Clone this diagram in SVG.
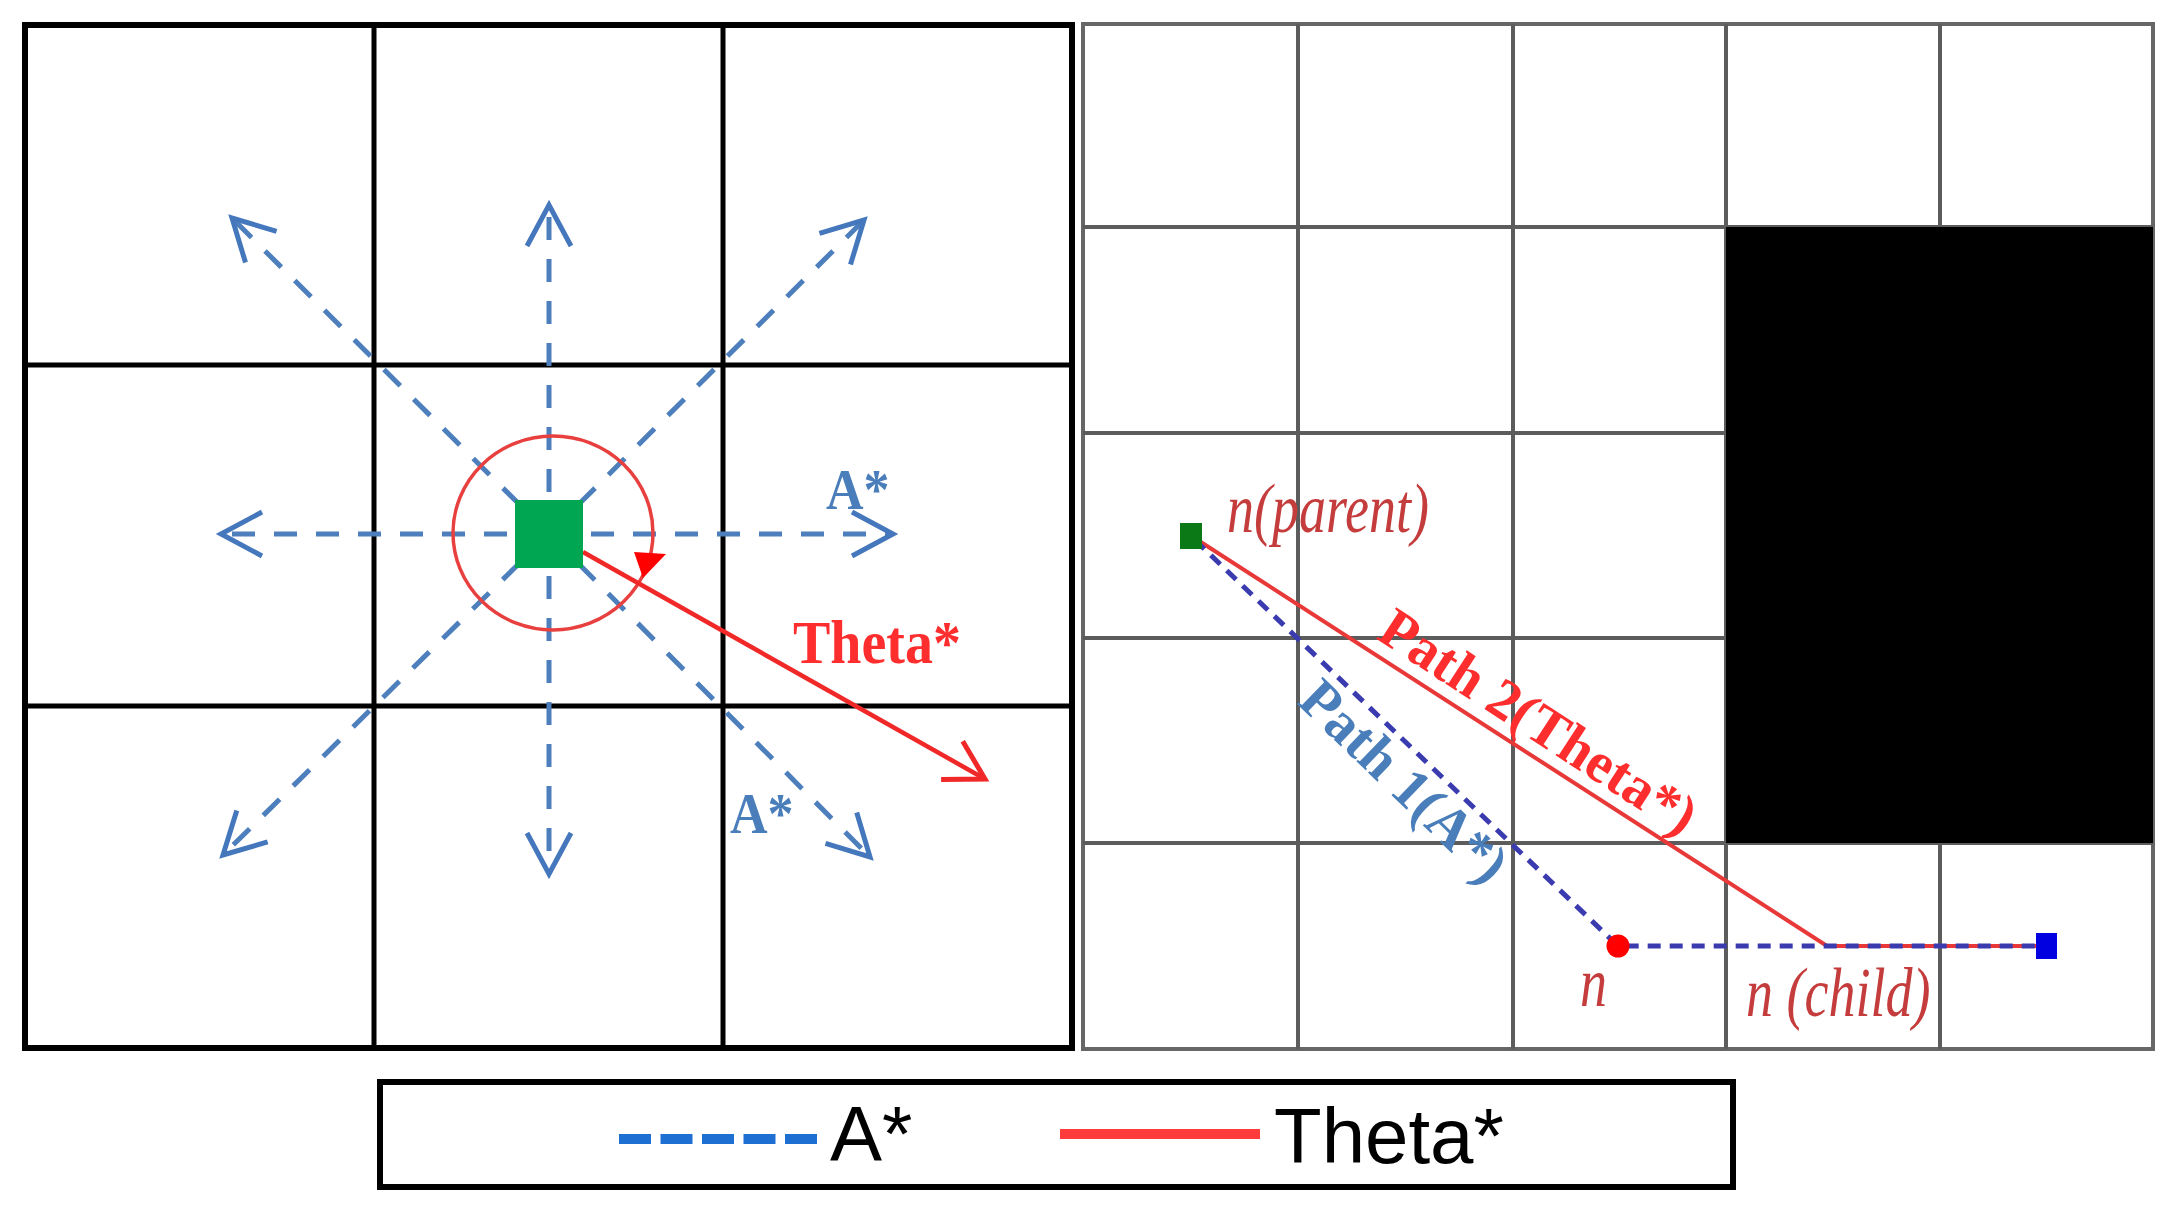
<svg xmlns="http://www.w3.org/2000/svg" width="2179" height="1209" viewBox="0 0 2179 1209">
<style>
.grid1{stroke:#000;stroke-width:5;fill:none}
.grid2{stroke:#5c5c5c;stroke-width:4;fill:none}
.astar{stroke:#4E7FBD;stroke-width:5;fill:none;stroke-dasharray:23 19}
.lbl-blue{font-family:"Liberation Serif",serif;font-weight:bold;fill:#4A7EBB}
.lbl-red{font-family:"Liberation Serif",serif;font-weight:bold;fill:#FF2E2E}
.lbl-n{font-family:"Liberation Serif",serif;font-style:italic;fill:#C43C3C;font-size:54px}
.leg{font-family:"Liberation Sans",Arial,sans-serif;fill:#000;font-size:78px}
</style>
<defs>
<marker id="blueHead" markerUnits="userSpaceOnUse" viewBox="-50 -30 60 60" markerWidth="60" markerHeight="60" refX="0" refY="0" orient="auto">
<path d="M-41,-22 L0,0 L-41,22" fill="none" stroke="#4577BD" stroke-width="5" stroke-dasharray="none" stroke-linejoin="miter"/>
</marker>
<marker id="redHead" markerUnits="userSpaceOnUse" viewBox="-50 -30 60 60" markerWidth="60" markerHeight="60" refX="0" refY="0" orient="auto">
<path d="M-38,-22 L0,0 L-38,22" fill="none" stroke="#F02828" stroke-width="5"/>
</marker>
</defs>
<rect width="2179" height="1209" fill="#fff"/>

<g id="left-panel">
<rect x="25" y="25" width="1047" height="1023" fill="#fff" stroke="#000" stroke-width="6"/>
<path class="grid1" d="M374,25 V1048 M723,25 V1048 M25,365 H1072 M25,706 H1072"/>
</g>

<g id="connectors">
<g id="astar-arrows">
<line class="astar" x1="549" y1="534" x2="549" y2="205" marker-end="url(#blueHead)"/>
<line class="astar" x1="549" y1="534" x2="549" y2="874" marker-end="url(#blueHead)"/>
<line class="astar" x1="549" y1="534" x2="221" y2="534" marker-end="url(#blueHead)"/>
<line class="astar" x1="549" y1="534" x2="893" y2="534" marker-end="url(#blueHead)"/>
<line class="astar" x1="549" y1="534" x2="232" y2="218" marker-end="url(#blueHead)"/>
<line class="astar" x1="549" y1="534" x2="864" y2="220" marker-end="url(#blueHead)"/>
<line class="astar" x1="549" y1="534" x2="223" y2="855" marker-end="url(#blueHead)"/>
<line class="astar" x1="549" y1="534" x2="870" y2="857" marker-end="url(#blueHead)"/>
</g>
<ellipse cx="553" cy="533" rx="100" ry="97" fill="none" stroke="#E8403F" stroke-width="3.5"/>
<polygon points="634,552 666,554 643,578" fill="#FF0000"/>
<line x1="583" y1="552" x2="985" y2="779" stroke="#F02828" stroke-width="4.5" marker-end="url(#redHead)"/>
</g>

<g id="node-current">
<rect x="515" y="500" width="68" height="68" fill="#00A651"/>
</g>

<g id="left-labels">
<text class="lbl-blue" font-size="52" transform="translate(826,509) scale(1,1.1)">A*</text>
<text class="lbl-blue" font-size="52" transform="translate(730,833) scale(1,1.1)">A*</text>
<text class="lbl-red" font-size="56" transform="translate(793,663) scale(1,1.1)">Theta*</text>
</g>

<g id="right-panel">
<rect x="1083" y="24" width="1070" height="1025" fill="#fff" stroke="#666" stroke-width="4"/>
<path class="grid2" d="M1298,24 V1049 M1513,24 V1049 M1726,24 V1049 M1940,24 V1049 M1083,227 H2153 M1083,433 H2153 M1083,638 H2153 M1083,843 H2153"/>
<rect id="obstacle" x="1726" y="227" width="427" height="616" fill="#000"/>
</g>

<g id="paths">
<polyline points="1193,537 1827,946 2046,946" fill="none" stroke="#E83838" stroke-width="4"/>
<polyline points="1195,540 1618,946 2046,946" fill="none" stroke="#3B3BB0" stroke-width="5" stroke-dasharray="13 9"/>
</g>

<g id="node-parent"><rect x="1180" y="523" width="22" height="26" fill="#0B7A16"/>
<text class="lbl-n" transform="translate(1227,532) scale(1,1.3)">n(parent)</text></g>
<g id="node-n"><circle cx="1618" cy="946" r="11.5" fill="#FF0000"/>
<text class="lbl-n" transform="translate(1580,1006) scale(1,1.3)">n</text></g>
<g id="node-child"><text class="lbl-n" transform="translate(1746,1016) scale(1,1.3)">n (child)</text></g>
<g id="node-goal"><rect x="2036" y="933" width="21" height="26" fill="#0000E0"/></g>

<g id="path-labels">
<text class="lbl-red" font-size="57" transform="translate(1375,638) rotate(33)">Path 2(Theta*)</text>
<text class="lbl-blue" font-size="57" transform="translate(1296,703) rotate(44)">Path 1(A*)</text>
</g>

<g id="legend">
<rect x="380" y="1082" width="1353" height="105" fill="#fff" stroke="#000" stroke-width="6"/>
<line x1="619" y1="1139" x2="817" y2="1139" stroke="#1E6FD2" stroke-width="10" stroke-dasharray="32 9.5"/>
<text class="leg" x="830" y="1161">A*</text>
<line x1="1060" y1="1134" x2="1260" y2="1134" stroke="#FF3B3B" stroke-width="10"/>
<text class="leg" x="1274" y="1163">Theta*</text>
</g>
</svg>
